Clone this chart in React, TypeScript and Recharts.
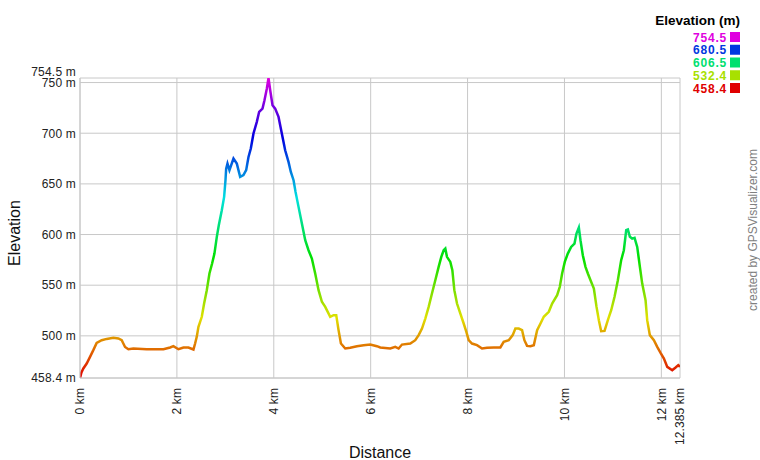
import React from "react";
import { LineChart, Line, XAxis, YAxis, CartesianGrid } from "recharts";

// Distance along the track (km)
const distanceKm = [
  0, 0.03, 0.069, 0.138, 0.207, 0.275, 0.344, 0.448, 0.551, 0.689, 0.792, 0.861, 0.93, 0.999,
  1.102, 1.377, 1.722, 1.86, 1.928, 2.032, 2.135, 2.238, 2.342, 2.376, 2.41, 2.445, 2.514,
  2.562, 2.617, 2.672, 2.727, 2.775, 2.824, 2.865, 2.927, 2.975, 3.003, 3.017, 3.044, 3.085,
  3.168, 3.237, 3.306, 3.374, 3.43, 3.478, 3.526, 3.581, 3.65, 3.698, 3.767, 3.808, 3.857,
  3.891, 3.926, 3.974, 4.029, 4.098, 4.166, 4.235, 4.304, 4.352, 4.408, 4.449, 4.511, 4.58,
  4.649, 4.717, 4.786, 4.855, 4.924, 4.993, 5.062, 5.165, 5.234, 5.289, 5.337, 5.386, 5.475,
  5.578, 5.716, 5.854, 5.991, 6.129, 6.198, 6.405, 6.508, 6.577, 6.646, 6.818, 6.921, 6.99,
  7.059, 7.128, 7.197, 7.265, 7.334, 7.403, 7.458, 7.507, 7.541, 7.575, 7.644, 7.686, 7.727,
  7.782, 7.851, 7.92, 7.975, 8.023, 8.092, 8.195, 8.299, 8.402, 8.54, 8.677, 8.746, 8.85,
  8.932, 8.987, 9.056, 9.125, 9.173, 9.228, 9.298, 9.367, 9.436, 9.505, 9.573, 9.677, 9.746,
  9.849, 9.904, 9.952, 10.007, 10.069, 10.138, 10.207, 10.248, 10.297, 10.331, 10.379, 10.434,
  10.483, 10.538, 10.607, 10.662, 10.71, 10.758, 10.827, 10.896, 10.965, 11.034, 11.102,
  11.171, 11.226, 11.275, 11.309, 11.35, 11.398, 11.447, 11.502, 11.557, 11.605, 11.674,
  11.708, 11.763, 11.846, 11.915, 11.984, 12.053, 12.122, 12.225, 12.294, 12.349, 12.385,
];

// Elevation (m)
const elevationM = [
  458.4, 464, 467.8, 472.7, 479.3, 485.9, 493, 495.7, 497, 498, 497.4, 495.7, 489, 486.8,
  487.5, 486.8, 486.8, 488.5, 489.8, 486.8, 488.5, 488.5, 486.5, 492.4, 499, 508.9, 518.8,
  531.9, 545, 561.5, 571.4, 581.2, 597.7, 609.2, 624, 637.2, 653.6, 665.1, 670, 663.5,
  675, 670, 656.9, 658.6, 663.5, 676.6, 684.9, 699.7, 711.2, 721.1, 724.3, 732.6, 744.1,
  754.5, 742.4, 727.6, 724.3, 716.1, 699.7, 683.2, 671.7, 661.8, 653.6, 642.1, 627.3, 610.9,
  594.4, 584.5, 576.3, 561.5, 545.1, 533.6, 528.6, 518.8, 520.4, 520.4, 505.6, 492.4, 487.5,
  488.2, 489.8, 490.8, 491.4, 489.8, 488.5, 487.5, 489.1, 487.5, 491.4, 492.4, 495.7, 500.7,
  507.2, 517.1, 528.6, 541.8, 554.9, 568.1, 578, 584.5, 586.2, 578, 573, 564.8, 545.1,
  531.9, 522, 512.2, 503.9, 495.7, 492.4, 490.8, 487.5, 488.2, 488.5, 488.5, 494.1, 495.7,
  500.7, 507.2, 507.2, 505.6, 495.7, 490.1, 489.8, 490.8, 505.6, 512.2, 518.8, 523.7, 531.9,
  540.1, 548.4, 561.5, 573, 581.2, 587.8, 591.1, 601, 606.9, 594.4, 579.6, 568.1,
  561.5, 554.9, 546.7, 528.6, 515.5, 504.6, 504.9, 515.5, 525.3, 538.5, 554.9,
  574.7, 584.5, 604.3, 605, 597.7, 596, 596.7, 587.8, 568.1, 551.6, 535.2,
  515.5, 500.7, 495.7, 489.1, 483.2, 477.6, 469.4, 466.1, 468.8, 471.1, 469.4,
];

const yTicks = [458.4, 500, 550, 600, 650, 700, 750, 754.5];
const xTicks = [0, 2, 4, 6, 8, 10, 12, 12.385];
const legendValues = [754.5, 680.5, 606.5, 532.4, 458.4];

const Y_MIN = 458.4;
const Y_MAX = 754.5;

const data = distanceKm.map((d, i) => ({ d, e: elevationM[i] }));

const FONT = "Arial, 'Liberation Sans', Helvetica, sans-serif";

// hue 0 (red) at the minimum to hue 300 (magenta) at the maximum
function colorForElevation(v: number): string {
  const t = (v - Y_MIN) / (Y_MAX - Y_MIN);
  const h = 300 * Math.max(0, Math.min(1, t));
  const max = 224;
  const sector = Math.floor(h / 60);
  const f = (h - sector * 60) / 60;
  const up = Math.round(max * f);
  const down = Math.round(max * (1 - f));
  let r = 0, g = 0, b = 0;
  switch (sector) {
    case 0: r = max; g = up; b = 0; break;
    case 1: r = down; g = max; b = 0; break;
    case 2: r = 0; g = max; b = up; break;
    case 3: r = 0; g = down; b = max; break;
    case 4: r = up; g = 0; b = max; break;
    default: r = max; g = 0; b = max; break;
  }
  const hx = (n: number) => n.toString(16).padStart(2, "0");
  return `#${hx(r)}${hx(g)}${hx(b)}`;
}

const gradientStops = Array.from({ length: 31 }, (_, i) => {
  const offset = i / 30;
  const v = Y_MAX - offset * (Y_MAX - Y_MIN);
  return { offset, color: colorForElevation(v) };
});

const YTick = (props: any) => {
  const { y, payload } = props;
  const v = payload.value as number;
  const shift = v === Y_MAX ? -6.5 : v === 750 ? 0.5 : 0;
  return (
    <text x={76} y={y + shift} dy={4.3} textAnchor="end" fontSize={12} letterSpacing={0.2} fill="#222" fontFamily={FONT}>
      {`${v} m`}
    </text>
  );
};

const XTick = (props: any) => {
  const { x, payload } = props;
  const top = 388;
  return (
    <text
      x={x}
      y={top}
      dy={4.3}
      textAnchor="end"
      fontSize={12}
      letterSpacing={0.1}
      fill="#222"
      fontFamily={FONT}
      transform={`rotate(-90, ${x}, ${top})`}
    >
      {`${payload.value} km`}
    </text>
  );
};

export default function App() {
  return (
    <div style={{ position: "absolute", left: 0, top: 0, width: 760, height: 460, background: "#fff" }}>
      <svg width={0} height={0} style={{ position: "absolute" }}>
        <defs>
          <linearGradient id="elevGrad" x1="0" y1="0" x2="0" y2="1">
            {gradientStops.map((s, i) => (
              <stop key={i} offset={s.offset} stopColor={s.color} />
            ))}
          </linearGradient>
        </defs>
      </svg>
      <LineChart
        width={760}
        height={460}
        data={data}
        margin={{ top: 78, right: 80, left: 0, bottom: 0 }}
      >
        <CartesianGrid stroke="#c8c8c8" strokeWidth={1} />
        <XAxis
          type="number"
          dataKey="d"
          domain={[0, 12.385]}
          ticks={xTicks}
          interval={0}
          allowDataOverflow
          tickLine={false}
          axisLine={{ stroke: "#c8c8c8" }}
          height={82}
          tick={<XTick />}
        />
        <YAxis
          type="number"
          domain={[Y_MIN, Y_MAX]}
          ticks={yTicks}
          interval={0}
          allowDataOverflow
          tickLine={false}
          axisLine={{ stroke: "#c8c8c8" }}
          width={80}
          tick={<YTick />}
        />
        <Line
          type="linear"
          dataKey="e"
          stroke="url(#elevGrad)"
          strokeWidth={2.5}
          dot={false}
          activeDot={false}
          isAnimationActive={false}
        />
      </LineChart>
      <svg
        width={760}
        height={460}
        style={{ position: "absolute", left: 0, top: 0, pointerEvents: "none" }}
      >
        <text x={380} y={458} textAnchor="middle" fontSize={16} fill="#111" fontFamily={FONT}>
          Distance
        </text>
        <text
          x={20}
          y={233}
          textAnchor="middle"
          fontSize={16}
          fill="#111"
          fontFamily={FONT}
          transform="rotate(-90, 20, 233)"
        >
          Elevation
        </text>
        <text
          x={757}
          y={230}
          textAnchor="middle"
          fontSize={12}
          fill="#808080"
          fontFamily={FONT}
          transform="rotate(-90, 757, 230)"
        >
          created by GPSVisualizer.com
        </text>
        <text x={740} y={25} textAnchor="end" fontSize={13.5} fontWeight="bold" fill="#000" fontFamily={FONT}>
          Elevation (m)
        </text>
        {legendValues.map((v, i) => {
          const cy = 37 + i * 12.75;
          const c = colorForElevation(v);
          return (
            <g key={v}>
              <text x={727} y={cy + 4.5} textAnchor="end" fontSize={12} letterSpacing={0.8} fontWeight="bold" fill={c} fontFamily={FONT}>
                {v.toFixed(1)}
              </text>
              <rect x={730} y={cy - 5} width={10} height={10} fill={c} />
            </g>
          );
        })}
      </svg>
    </div>
  );
}
